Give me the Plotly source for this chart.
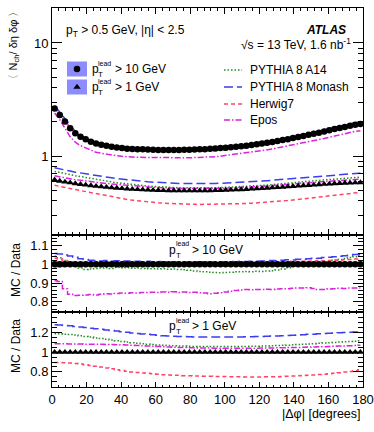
import plotly.graph_objects as go
import math

# ---------------- data ----------------
dphi = [1.5, 4.5, 7.5, 10.5, 13.5, 16.5, 19.5, 22.5, 25.5, 28.5,
        31.5, 34.5, 37.5, 40.5, 43.5, 46.5, 49.5, 52.5, 55.5, 58.5,
        61.5, 64.5, 67.5, 70.5, 73.5, 76.5, 79.5, 82.5, 85.5, 88.5,
        91.5, 94.5, 97.5, 100.5, 103.5, 106.5, 109.5, 112.5, 115.5, 118.5,
        121.5, 124.5, 127.5, 130.5, 133.5, 136.5, 139.5, 142.5, 145.5, 148.5,
        151.5, 154.5, 157.5, 160.5, 163.5, 166.5, 169.5, 172.5, 175.5, 178.5]

data_lead10 = [2.63, 2.31, 2.02, 1.76, 1.59, 1.48, 1.41, 1.34, 1.29, 1.26,
               1.23, 1.21, 1.19, 1.175, 1.16, 1.155, 1.15, 1.145, 1.14, 1.135,
               1.13, 1.13, 1.13, 1.13, 1.13, 1.135, 1.135, 1.14, 1.145, 1.15,
               1.16, 1.165, 1.175, 1.185, 1.195, 1.205, 1.22, 1.235, 1.25, 1.27,
               1.29, 1.31, 1.33, 1.36, 1.385, 1.41, 1.44, 1.47, 1.50, 1.54,
               1.57, 1.61, 1.65, 1.69, 1.73, 1.77, 1.81, 1.85, 1.89, 1.92]

data_lead1 = [0.615, 0.600, 0.590, 0.580, 0.570, 0.562, 0.555, 0.548, 0.541, 0.535,
              0.530, 0.525, 0.520, 0.516, 0.512, 0.509, 0.506, 0.503, 0.501, 0.499,
              0.497, 0.496, 0.495, 0.494, 0.493, 0.493, 0.493, 0.493, 0.493, 0.494,
              0.495, 0.496, 0.497, 0.499, 0.501, 0.503, 0.505, 0.508, 0.511, 0.514,
              0.517, 0.520, 0.524, 0.527, 0.531, 0.535, 0.539, 0.543, 0.547, 0.551,
              0.555, 0.559, 0.563, 0.566, 0.570, 0.573, 0.576, 0.578, 0.580, 0.582]

# relative data uncertainties (blue boxes)
unc_lead10 = [0.020, 0.016, 0.013, 0.011, 0.010, 0.009, 0.008, 0.008, 0.007, 0.007,
              0.007, 0.007, 0.006, 0.006, 0.006, 0.006, 0.006, 0.006, 0.006, 0.006,
              0.006, 0.006, 0.006, 0.006, 0.006, 0.006, 0.006, 0.006, 0.006, 0.006,
              0.006, 0.006, 0.006, 0.006, 0.006, 0.006, 0.006, 0.006, 0.006, 0.006,
              0.006, 0.006, 0.006, 0.006, 0.006, 0.006, 0.006, 0.006, 0.007, 0.007,
              0.007, 0.007, 0.007, 0.007, 0.007, 0.008, 0.008, 0.008, 0.008, 0.008]
unc_lead1 = [0.012, 0.011, 0.011, 0.010, 0.010, 0.010, 0.010, 0.010, 0.010, 0.010,
             0.010, 0.010, 0.010, 0.010, 0.010, 0.010, 0.010, 0.010, 0.010, 0.010,
             0.010, 0.010, 0.010, 0.010, 0.010, 0.010, 0.010, 0.010, 0.010, 0.010,
             0.010, 0.010, 0.010, 0.010, 0.010, 0.010, 0.010, 0.010, 0.010, 0.010,
             0.010, 0.010, 0.010, 0.010, 0.010, 0.010, 0.010, 0.010, 0.010, 0.010,
             0.010, 0.010, 0.010, 0.010, 0.010, 0.010, 0.010, 0.010, 0.011, 0.011]

# MC / Data ratios, p_T^lead > 10 GeV
r10_a14 = [1.043, 1.035, 1.020, 1.005, 0.992, 0.980, 0.972, 0.975, 0.978, 0.980,
           0.982, 0.978, 0.983, 0.980, 0.982, 0.979, 0.981, 0.978, 0.976, 0.977,
           0.975, 0.976, 0.974, 0.975, 0.973, 0.971, 0.968, 0.965, 0.962, 0.960,
           0.958, 0.956, 0.955, 0.957, 0.958, 0.961, 0.960, 0.962, 0.961, 0.963,
           0.962, 0.964, 0.966, 0.970, 0.975, 0.982, 0.990, 0.996, 1.000, 1.003,
           1.006, 1.010, 1.014, 1.018, 1.022, 1.026, 1.031, 1.036, 1.041, 1.047]
r10_monash = [1.058, 1.055, 1.050, 1.045, 1.038, 1.030, 1.026, 1.022, 1.020, 1.018,
              1.021, 1.017, 1.019, 1.016, 1.018, 1.015, 1.017, 1.014, 1.016, 1.013,
              1.015, 1.012, 1.014, 1.012, 1.013, 1.011, 1.013, 1.012, 1.014, 1.012,
              1.013, 1.011, 1.014, 1.013, 1.015, 1.013, 1.016, 1.015, 1.017, 1.016,
              1.018, 1.017, 1.020, 1.019, 1.022, 1.024, 1.023, 1.027, 1.026, 1.030,
              1.033, 1.032, 1.036, 1.038, 1.040, 1.043, 1.046, 1.049, 1.052, 1.054]
r10_herwig = [1.032, 1.028, 1.020, 1.012, 1.008, 1.006, 1.004, 1.005, 1.003, 1.006,
              1.002, 1.004, 1.003, 1.005, 1.002, 1.004, 1.003, 1.001, 1.004, 1.002,
              1.003, 1.001, 1.004, 1.002, 1.003, 1.001, 1.003, 1.002, 1.004, 1.003,
              1.005, 1.004, 1.006, 1.005, 1.007, 1.006, 1.008, 1.007, 1.009, 1.008,
              1.010, 1.012, 1.011, 1.013, 1.012, 1.014, 1.016, 1.015, 1.017, 1.016,
              1.018, 1.020, 1.019, 1.021, 1.023, 1.022, 1.024, 1.026, 1.028, 1.030]
r10_epos = [0.912, 0.908, 0.870, 0.840, 0.833, 0.834, 0.836, 0.838, 0.836, 0.840,
            0.842, 0.841, 0.844, 0.846, 0.845, 0.848, 0.847, 0.850, 0.849, 0.851,
            0.850, 0.852, 0.851, 0.853, 0.850, 0.852, 0.849, 0.851, 0.848, 0.846,
            0.843, 0.845, 0.848, 0.852, 0.856, 0.860, 0.863, 0.865, 0.864, 0.866,
            0.865, 0.867, 0.866, 0.868, 0.870, 0.869, 0.872, 0.874, 0.873, 0.875,
            0.871, 0.866, 0.865, 0.868, 0.870, 0.872, 0.871, 0.873, 0.874, 0.873]

# MC / Data ratios, p_T^lead > 1 GeV
r1_a14 = [1.189, 1.187, 1.184, 1.180, 1.175, 1.168, 1.161, 1.154, 1.146, 1.139,
          1.131, 1.124, 1.116, 1.109, 1.103, 1.097, 1.091, 1.087, 1.082, 1.078,
          1.074, 1.071, 1.068, 1.065, 1.063, 1.062, 1.060, 1.059, 1.058, 1.058,
          1.057, 1.057, 1.057, 1.057, 1.057, 1.058, 1.058, 1.059, 1.060, 1.061,
          1.063, 1.064, 1.066, 1.068, 1.070, 1.072, 1.075, 1.078, 1.081, 1.084,
          1.087, 1.090, 1.094, 1.097, 1.100, 1.103, 1.106, 1.109, 1.112, 1.116]
r1_monash = [1.280, 1.277, 1.273, 1.269, 1.263, 1.257, 1.251, 1.245, 1.239, 1.233,
             1.227, 1.221, 1.215, 1.209, 1.203, 1.197, 1.191, 1.186, 1.182, 1.177,
             1.173, 1.169, 1.166, 1.163, 1.161, 1.159, 1.157, 1.156, 1.155, 1.154,
             1.154, 1.154, 1.154, 1.154, 1.155, 1.155, 1.156, 1.157, 1.158, 1.160,
             1.161, 1.163, 1.165, 1.166, 1.169, 1.171, 1.174, 1.176, 1.179, 1.182,
             1.184, 1.187, 1.190, 1.193, 1.196, 1.199, 1.202, 1.204, 1.207, 1.210]
r1_herwig = [0.895, 0.894, 0.892, 0.889, 0.885, 0.879, 0.872, 0.865, 0.857, 0.848,
             0.840, 0.831, 0.822, 0.813, 0.806, 0.799, 0.793, 0.788, 0.784, 0.779,
             0.775, 0.771, 0.768, 0.766, 0.764, 0.761, 0.759, 0.758, 0.756, 0.755,
             0.754, 0.753, 0.752, 0.751, 0.750, 0.749, 0.749, 0.748, 0.748, 0.748,
             0.748, 0.749, 0.749, 0.750, 0.752, 0.754, 0.756, 0.759, 0.762, 0.765,
             0.768, 0.772, 0.776, 0.780, 0.785, 0.791, 0.797, 0.803, 0.811, 0.820]
r1_epos = [1.085, 1.085, 1.085, 1.084, 1.084, 1.083, 1.082, 1.082, 1.081, 1.080,
           1.079, 1.078, 1.077, 1.075, 1.073, 1.071, 1.068, 1.066, 1.063, 1.060,
           1.057, 1.055, 1.053, 1.051, 1.049, 1.047, 1.046, 1.045, 1.044, 1.043,
           1.042, 1.041, 1.041, 1.040, 1.040, 1.040, 1.040, 1.040, 1.041, 1.041,
           1.042, 1.043, 1.044, 1.045, 1.046, 1.047, 1.048, 1.049, 1.050, 1.052,
           1.053, 1.055, 1.056, 1.058, 1.060, 1.062, 1.064, 1.066, 1.068, 1.070]

x_ticks = [0, 20, 40, 60, 80, 100, 120, 140, 160, 180]
top_y_ticks = [1, 10]
mid_y_ticks = [0.8, 0.9, 1.0, 1.1]
bot_y_ticks = [0.8, 1.0, 1.2]

# ---------------- styles ----------------
W, H = 374, 432
FONT = "Liberation Sans, Arial, sans-serif"
C_A14 = "#228b22"
C_MON = "#3c3cf0"
C_HER = "#ff4468"
C_EPO = "#e020e0"
C_BAND = "rgba(120,120,255,0.75)"
D_A14 = "1.5px,2px"
D_MON = "9px,4px"
D_HER = "4px,3px"
D_EPO = "6px,2px,1.5px,2px"

models = [
    ("PYTHIA 8 A14", C_A14, D_A14, r10_a14, r1_a14),
    ("PYTHIA 8 Monash", C_MON, D_MON, r10_monash, r1_monash),
    ("Herwig7", C_HER, D_HER, r10_herwig, r1_herwig),
    ("Epos", C_EPO, D_EPO, r10_epos, r1_epos),
]

def px_x(p):
    return p / W

def px_y(p):
    return 1 - p / H

fig = go.Figure()

def band(xaxis, yaxis, centre, rel):
    up = [c * (1 + r) for c, r in zip(centre, rel)]
    lo = [c * (1 - r) for c, r in zip(centre, rel)]
    fig.add_trace(go.Scatter(x=dphi + dphi[::-1], y=up + lo[::-1], fill="toself",
                             fillcolor=C_BAND, line=dict(width=0), mode="lines",
                             xaxis=xaxis, yaxis=yaxis, hoverinfo="skip", showlegend=False))

# ---- top panel ----
band("x", "y", data_lead10, unc_lead10)
band("x", "y", data_lead1, unc_lead1)
for name, col, dash, r10, r1 in models:
    fig.add_trace(go.Scatter(x=dphi, y=[d * r for d, r in zip(data_lead10, r10)], mode="lines",
                             line=dict(color=col, dash=dash, width=1.5), xaxis="x", yaxis="y",
                             showlegend=False))
    fig.add_trace(go.Scatter(x=dphi, y=[d * r for d, r in zip(data_lead1, r1)], mode="lines",
                             line=dict(color=col, dash=dash, width=1.5), xaxis="x", yaxis="y",
                             showlegend=False))
fig.add_trace(go.Scatter(x=dphi, y=data_lead10, mode="markers",
                         marker=dict(symbol="circle", size=6.5, color="black"),
                         xaxis="x", yaxis="y", showlegend=False))
fig.add_trace(go.Scatter(x=dphi, y=data_lead1, mode="markers",
                         marker=dict(symbol="triangle-up", size=6.5, color="black"),
                         xaxis="x", yaxis="y", showlegend=False))

# ---- middle panel ----
ones = [1.0] * len(dphi)
band("x2", "y2", ones, unc_lead10)
for name, col, dash, r10, r1 in models:
    fig.add_trace(go.Scatter(x=dphi, y=r10, mode="lines", line_shape="hvh",
                             line=dict(color=col, dash=dash, width=1.5), xaxis="x2", yaxis="y2",
                             showlegend=False))
fig.add_trace(go.Scatter(x=dphi, y=ones, mode="markers",
                         marker=dict(symbol="circle", size=6.5, color="black"),
                         xaxis="x2", yaxis="y2", showlegend=False))

# ---- bottom panel ----
band("x3", "y3", ones, unc_lead1)
for name, col, dash, r10, r1 in models:
    fig.add_trace(go.Scatter(x=dphi, y=r1, mode="lines", line_shape="hvh",
                             line=dict(color=col, dash=dash, width=1.5), xaxis="x3", yaxis="y3",
                             showlegend=False))
fig.add_trace(go.Scatter(x=dphi, y=ones, mode="markers",
                         marker=dict(symbol="triangle-up", size=6.5, color="black"),
                         xaxis="x3", yaxis="y3", showlegend=False))

# ---- legend markers on a hidden pixel-coordinate overlay axis ----
fig.add_trace(go.Scatter(x=[77], y=[69], mode="markers",
                         marker=dict(symbol="circle", size=6.5, color="black"),
                         xaxis="x4", yaxis="y4", showlegend=False, hoverinfo="skip"))
fig.add_trace(go.Scatter(x=[77], y=[87], mode="markers",
                         marker=dict(symbol="triangle-up", size=6.5, color="black"),
                         xaxis="x4", yaxis="y4", showlegend=False, hoverinfo="skip"))

# ---------------- axes ----------------
xdom = [px_x(52), px_x(363)]
dom_top = [px_y(235), px_y(8)]
dom_mid = [px_y(312), px_y(235)]
dom_bot = [px_y(387), px_y(312)]

def xax(anchor, labels, tl):
    return dict(domain=xdom, range=[0, 180], anchor=anchor, tickvals=x_ticks,
                showticklabels=labels, ticks="inside", ticklen=tl, tickwidth=1,
                tickcolor="black", mirror="allticks", showline=True, linecolor="black",
                linewidth=1, showgrid=False, zeroline=False, automargin=False,
                minor=dict(dtick=4, tick0=0, ticks="inside", ticklen=max(2, tl // 2),
                           tickcolor="black", showgrid=False),
                tickfont=dict(family=FONT, size=13, color="black"))

def yax(anchor, dom, rng, tickv, ticktext, minor, typ="linear"):
    d = dict(domain=dom, range=rng, anchor=anchor, type=typ, tickvals=tickv, ticktext=ticktext,
             ticks="inside", ticklen=10, tickwidth=1, tickcolor="black", mirror="allticks",
             showline=True, linecolor="black", linewidth=1, showgrid=False, zeroline=False,
             automargin=False, tickfont=dict(family=FONT, size=13, color="black"))
    d["minor"] = dict(ticks="inside", ticklen=5, tickcolor="black", showgrid=False, **minor)
    return d

top_minor = [0.2, 0.3, 0.4, 0.5, 0.6, 0.7, 0.8, 0.9, 2, 3, 4, 5, 6, 7, 8, 9, 20]

fig.update_layout(
    width=W, height=H, margin=dict(l=0, r=0, t=0, b=0, pad=0, autoexpand=False),
    paper_bgcolor="white", plot_bgcolor="rgba(0,0,0,0)", showlegend=False,
    font=dict(family=FONT, color="black"),
    xaxis=xax("y", False, 6),
    xaxis2=xax("y2", False, 5),
    xaxis3=xax("y3", True, 5),
    yaxis=yax("x", dom_top, [math.log10(0.2), math.log10(20.4)], top_y_ticks,
              ["1", "10"], dict(tickvals=top_minor), typ="log"),
    yaxis2=yax("x2", dom_mid, [0.745, 1.157], mid_y_ticks, ["0.8", "0.9", "1", "1.1"],
               dict(dtick=0.02, tick0=0.8)),
    yaxis3=yax("x3", dom_bot, [0.645, 1.41], bot_y_ticks, ["0.8", "1", "1.2"],
               dict(dtick=0.05, tick0=0.8)),
    xaxis4=dict(domain=[0, 1], range=[0, W], anchor="y4", visible=False, automargin=False,
                fixedrange=True),
    yaxis4=dict(domain=[0, 1], range=[H, 0], anchor="x4", visible=False, automargin=False,
                fixedrange=True),
)

# ---------------- annotations / legend ----------------
anns = []
def ann(text, x, y, size=12, xa="left", ya="middle", angle=0):
    anns.append(dict(text=text, x=px_x(x), y=px_y(y), xref="paper", yref="paper",
                     xanchor=xa, yanchor=ya, showarrow=False, textangle=angle,
                     font=dict(family=FONT, size=size, color="black")))

def ptlead(x, y, rest, size=12):
    ann("p", x, y, size=size)
    ann("T", x + 6.5, y + 5, size=8)
    ann("lead", x + 6.5, y - 6, size=7)
    ann(rest, x + 23, y, size=size)

ann("p<sub>T</sub> > 0.5 GeV, |η| < 2.5", 64, 31, size=12)
ann("<b><i>ATLAS</i></b>", 348, 30, size=12, xa="right")
ann("√s = 13 TeV, 1.6 nb<sup>-1</sup>", 353, 44, size=12, xa="right")

ptlead(90, 69, "> 10 GeV")
ptlead(90, 87, "> 1 GeV")
ptlead(167, 250, "> 10 GeV")
ptlead(167, 326, "> 1 GeV")

ann("〈 N<sub>ch</sub>/ δη δφ 〉", 13, 4, size=11, xa="center", ya="top", angle=-90)
ann("MC / Data", 16, 270, size=12, xa="center", angle=-90)
ann("MC / Data", 16, 346, size=12, xa="center", angle=-90)
ann("|Δφ| [degrees]", 363, 414, size=12.5, xa="right")

leg_rows = [70, 87, 104, 120]
for (name, col, dash, r10, r1), yy in zip(models, leg_rows):
    fig.add_shape(type="line", xref="paper", yref="paper", x0=px_x(224), x1=px_x(242),
                  y0=px_y(yy), y1=px_y(yy), line=dict(color=col, dash=dash, width=1.5))
    ann(name, 248, yy, size=12)

for yy in [69, 87]:
    fig.add_shape(type="rect", xref="paper", yref="paper", x0=px_x(67), x1=px_x(87),
                  y0=px_y(yy - 7.5), y1=px_y(yy + 7.5), line=dict(width=0),
                  fillcolor="rgb(140,140,255)", layer="below")

fig.update_layout(annotations=anns)
fig.write_html("out.html", config={"displayModeBar": False},
               post_script="document.body.style.margin='0';document.body.style.padding='0';")
